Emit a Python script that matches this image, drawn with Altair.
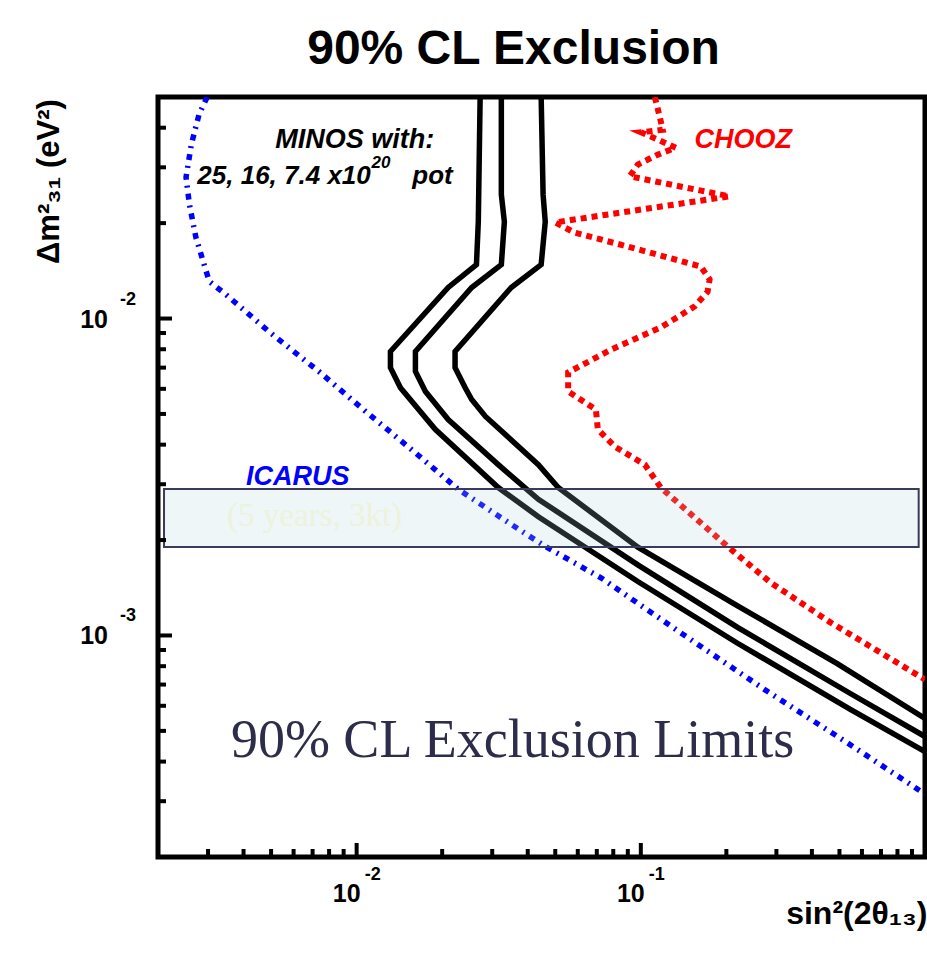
import altair as alt
import pandas as pd

W, H = 767, 760

# ---- curves ----
minos25_x = [0.0272, 0.0268, 0.0264, 0.0210, 0.01315, 0.01315, 0.01426, 0.0189, 0.0315, 0.0436, 0.0976, 0.219, 0.546, 1.0]
minos25_y = [0.05, 0.0202, 0.0148, 0.01253, 0.00787, 0.00700, 0.00605, 0.00447, 0.00293, 0.00237, 0.00148, 0.000945, 0.000585, 0.00043]

minos16_x = [0.0323, 0.0323, 0.0331, 0.0323, 0.0254, 0.0161, 0.0161, 0.01746, 0.0210, 0.0315, 0.0436, 0.0976, 0.219, 0.546, 1.0]
minos16_y = [0.05, 0.0246, 0.0202, 0.0148, 0.01253, 0.00787, 0.00681, 0.00589, 0.00480, 0.00346, 0.00269, 0.00167, 0.00106, 0.000656, 0.00048]

minos74_x = [0.0446, 0.0453, 0.0461, 0.0446, 0.0350, 0.0222, 0.0222, 0.0241, 0.0254, 0.0284, 0.0436, 0.0512, 0.0976, 0.219, 0.491, 1.0]
minos74_y = [0.05, 0.0246, 0.0202, 0.0148, 0.01253, 0.00787, 0.00700, 0.00605, 0.00555, 0.00491, 0.00346, 0.00293, 0.00190, 0.00124, 0.000815, 0.000547]

icarus_x = [0.00298, 0.00279, 0.00262, 0.00251, 0.00258, 0.00272, 0.00303, 0.00347, 0.00491, 0.00736, 0.01076, 0.0156, 0.0228, 0.0350, 0.0461, 0.0724, 0.138, 0.272, 0.532, 1.0]
icarus_y = [0.05, 0.0441, 0.0354, 0.0279, 0.0229, 0.0180, 0.0131, 0.0119, 0.00910, 0.00681, 0.00509, 0.00386, 0.00289, 0.00224, 0.00191, 0.00152, 0.00102, 0.000676, 0.000459, 0.000316]

chooz_x = [0.112, 0.1167, 0.1194, 0.100, 0.1148, 0.1328, 0.1148, 0.0976, 0.0914, 0.205, 0.0499, 0.0586, 0.0900, 0.1626, 0.1746, 0.1718, 0.1545, 0.1175, 0.0786, 0.0555, 0.0555, 0.0695, 0.0706, 0.0811, 0.1033, 0.1175, 0.2018, 0.2858, 0.4645, 1.0]
chooz_y = [0.05, 0.0431, 0.0394, 0.0387, 0.0367, 0.0346, 0.0329, 0.0306, 0.0281, 0.0243, 0.0201, 0.01866, 0.01687, 0.01459, 0.01328, 0.01216, 0.01091, 0.00937, 0.00798, 0.00676, 0.00589, 0.00516, 0.00447, 0.00394, 0.00346, 0.00293, 0.00191, 0.00147, 0.00110, 0.000726]

# ICARUS sensitivity band
band_x = [0.0021, 0.95]
band_y = [0.0019, 0.0029]

# ticks
x_major = [0.01, 0.1]
x_minor = [0.003, 0.004, 0.005, 0.006, 0.007, 0.008, 0.009,
           0.02, 0.03, 0.04, 0.05, 0.06, 0.07, 0.08, 0.09,
           0.2, 0.3, 0.4, 0.5, 0.6, 0.7, 0.8, 0.9]
y_major = [0.001, 0.01]
y_minor = [0.0003, 0.0004, 0.0005, 0.0006, 0.0007, 0.0008, 0.0009,
           0.002, 0.003, 0.004, 0.005, 0.006, 0.007, 0.008, 0.009,
           0.02, 0.03, 0.04]
x_lab_vals = [0.01, 0.1]
x_lab_exp = ["-2", "-1"]
y_lab_vals = [0.01, 0.001]
y_lab_exp = ["-2", "-3"]

# annotation anchors (data coordinates)
minos_head = {"x": [0.00984], "y": [0.0346], "t": ["MINOS with:"]}
minos_pot = {"x": [0.00275], "y": [0.0265], "t": ["25, 16, 7.4 x10"]}
minos_sup = {"x": [0.01129], "y": [0.0299], "t": ["20"]}
minos_pot2 = {"x": [0.0157], "y": [0.0265], "t": ["pot"]}
chooz_lab = {"x": [0.1546], "y": [0.0346], "t": ["CHOOZ"]}
icarus_lab = {"x": [0.00408], "y": [0.00299], "t": ["ICARUS"]}
years_lab = {"x": [0.0035], "y": [0.00221], "t": ["(5 years, 3kt)"]}
big_lab = {"x": [0.00361], "y": [0.000415], "t": ["90% CL Exclusion Limits"]}

xscale = alt.Scale(type="log", domain=[0.002, 1], nice=False)
yscale = alt.Scale(type="log", domain=[0.0002, 0.05], nice=False)

SANS = "Liberation Sans"
SERIF = "Liberation Serif"

xaxis = alt.Axis(title="sin²(2θ₁₃)", labels=False, ticks=False, domain=False, grid=False,
                 titleFont=SANS, titleFontSize=32, titleFontWeight="bold", titleColor="black",
                 titleX=W + 2, titleY=66, titleAlign="right", titleBaseline="alphabetic")
yaxis = alt.Axis(title="Δm²₃₁ (eV²)", labels=False, ticks=False, domain=False, grid=False,
                 titleFont=SANS, titleFontSize=31, titleFontWeight="bold", titleColor="black",
                 titleAngle=270, titleX=-100, titleY=84, titleAlign="center", titleBaseline="alphabetic")


def X(f):
    return alt.X(f, type="quantitative", scale=xscale, axis=xaxis)


def Y(f):
    return alt.Y(f, type="quantitative", scale=yscale, axis=yaxis)


def curve(xs, ys, color, width, dash=None):
    df = pd.DataFrame({"x": xs, "y": ys, "i": list(range(len(xs)))})
    kw = dict(color=color, strokeWidth=width, clip=True, strokeCap="butt", strokeJoin="miter")
    if dash is not None:
        kw["strokeDash"] = dash
    return alt.Chart(df).mark_line(**kw).encode(x=X("x"), y=Y("y"), order="i:Q")


def text(d, size, color="black", font=SANS, weight="bold", style="italic", align="left", baseline="alphabetic"):
    kw = dict(fontSize=size, color=color, font=font, fontWeight=weight, align=align, baseline=baseline)
    if style:
        kw["fontStyle"] = style
    return alt.Chart(pd.DataFrame(d)).mark_text(**kw).encode(x=X("x"), y=Y("y"), text="t:N")


layers = []
layers.append(curve(icarus_x, icarus_y, "#0000ff", 5.5, [6, 6, 2, 6]))
layers.append(curve(chooz_x, chooz_y, "#ff0000", 6, [6, 5]))
layers.append(curve(minos25_x, minos25_y, "black", 5.5))
layers.append(curve(minos16_x, minos16_y, "black", 5.5))
layers.append(curve(minos74_x, minos74_y, "black", 5.5))

band = alt.Chart(pd.DataFrame({"x1": [band_x[0]], "x2": [band_x[1]], "y1": [band_y[0]], "y2": [band_y[1]]})).mark_rect(
    fill="#aad2d7", fillOpacity=0.2, stroke="#3a3a5a", strokeWidth=2
).encode(x=X("x1"), x2="x2", y=Y("y1"), y2="y2")
layers.append(band)

layers.append(text(years_lab, 33, color="#edf2da", font=SERIF, weight="normal", style=None))
layers.append(text(minos_head, 27, align="center"))
layers.append(text(minos_pot, 26))
layers.append(text(minos_sup, 17))
layers.append(text(minos_pot2, 26))
layers.append(text(chooz_lab, 27, color="#ff0000"))
layers.append(text(icarus_lab, 27, color="#0000ff"))
layers.append(text(big_lab, 54, color="#2d2d4b", font=SERIF, weight="normal", style=None))

# tick marks (inward)
ymaj = alt.Chart(pd.DataFrame({"v": y_major})).mark_rule(color="black", strokeWidth=4).encode(
    y=Y("v"), x=alt.value(0), x2=alt.value(14))
ymin = alt.Chart(pd.DataFrame({"v": y_minor})).mark_rule(color="black", strokeWidth=4).encode(
    y=Y("v"), x=alt.value(0), x2=alt.value(8))
xmaj = alt.Chart(pd.DataFrame({"v": x_major})).mark_rule(color="black", strokeWidth=4).encode(
    x=X("v"), y=alt.value(H), y2=alt.value(H - 14))
xmin = alt.Chart(pd.DataFrame({"v": x_minor})).mark_rule(color="black", strokeWidth=4).encode(
    x=X("v"), y=alt.value(H), y2=alt.value(H - 8))
layers += [ymaj, ymin, xmaj, xmin]

# tick labels
xl = alt.Chart(pd.DataFrame({"v": x_lab_vals, "t": ["10"] * len(x_lab_vals)})).mark_text(
    fontSize=25, font=SANS, fontWeight="bold", color="black", align="center", baseline="alphabetic", dx=-10
).encode(x=X("v"), y=alt.value(H + 45), text="t:N")
xe = alt.Chart(pd.DataFrame({"v": x_lab_vals, "t": x_lab_exp})).mark_text(
    fontSize=18, font=SANS, fontWeight="bold", color="black", align="left", baseline="alphabetic", dx=8
).encode(x=X("v"), y=alt.value(H + 23), text="t:N")
yl = alt.Chart(pd.DataFrame({"v": y_lab_vals, "t": ["10"] * len(y_lab_vals)})).mark_text(
    fontSize=25, font=SANS, fontWeight="bold", color="black", align="right", baseline="middle", dy=1
).encode(y=Y("v"), x=alt.value(-50), text="t:N")
ye = alt.Chart(pd.DataFrame({"v": y_lab_vals, "t": y_lab_exp})).mark_text(
    fontSize=18, font=SANS, fontWeight="bold", color="black", align="left", baseline="middle", dy=-19
).encode(y=Y("v"), x=alt.value(-38), text="t:N")
layers += [xl, xe, yl, ye]

chart = alt.layer(*layers).properties(
    width=W, height=H,
    title=alt.TitleParams(text="90% CL Exclusion", fontSize=48, font=SANS, fontWeight="bold",
                          color="black", anchor="middle", dx=-28, dy=50, offset=35, baseline="alphabetic"),
    autosize=alt.AutoSizeParams(type="none"),
    padding={"left": 158, "top": 97, "right": 2, "bottom": 98},
    background="white",
).configure_view(stroke="black", strokeWidth=5)

chart.save("out.html", embed_options={"renderer": "svg", "actions": False})
